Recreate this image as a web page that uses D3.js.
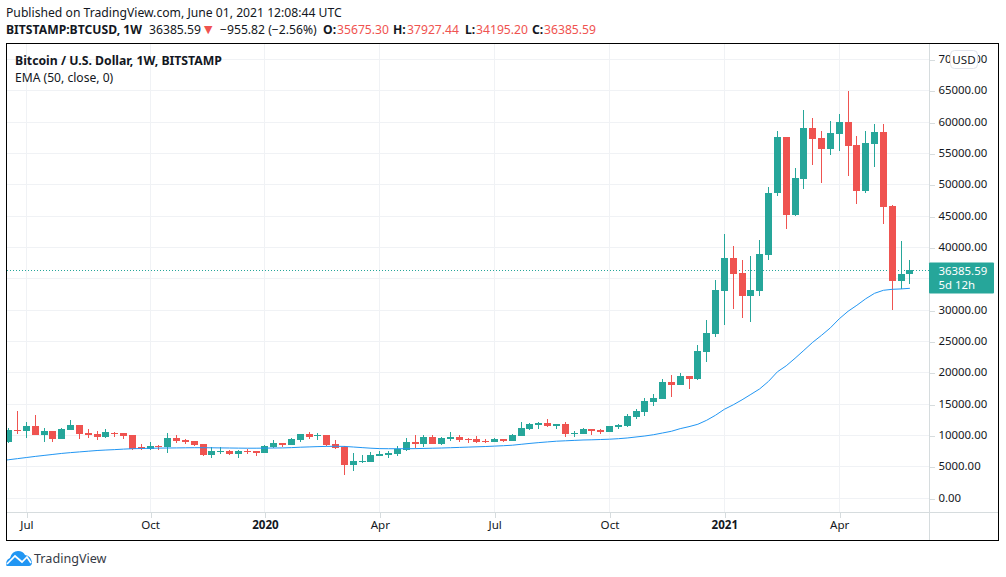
<!DOCTYPE html>
<html><head><meta charset="utf-8">
<script src="https://cdn.jsdelivr.net/npm/d3@7/dist/d3.min.js"></script>
<style>
html,body{margin:0;padding:0;background:#fff;}
svg{display:block;}
text{font-family:"Noto Sans",sans-serif;}
</style></head><body>
<svg id="chart" width="1006" height="577"></svg>
<script>
const opens=[8923,10787,10627,11427,9988,10627,9349,10787,11587,10308,10148,9669,10308,10308,9988,8071,7751,8230,8071,9509,9189,9029,8550,6792,7271,7431,6952,7431,7430,7110,8069,8708,8389,9187,10146,9827,9986,8548,8069,5192,5671,5671,6630,6790,6950,7590,8868,8548,9667,8548,9347,9667,9400,9347,9027,8868,9347,9027,9827,10946,11585,11905,11425,11745,10147,10147,10946,10786,10466,11265,11425,12864,13663,15261,15740,18457,17978,19416,18937,23249,26125,32997,38271,35874,32198,33057,38750,48659,57608,45142,50896,59046,57448,55690,58087,60005,56329,48978,56489,58407,46580,34595,35675.30];
const highs=[11214,13824,12066,13185,11107,10627,11107,12386,11587,10947,10627,10947,10467,10308,9988,8550,8870,8390,10308,9988,9349,9029,8550,8071,8071,7591,7591,7751,7430,8389,9187,8708,9507,10146,10466,10306,9986,9187,8229,7110,6790,7270,7430,7430,8229,9507,9986,9986,9986,9667,10466,9986,9507,9827,9347,9507,9347,10147,12065,11905,12065,12544,11745,12065,10626,11106,10946,10946,11425,11745,13343,14142,15900,16539,18937,19576,19895,19416,24370,28363,34755,42106,40189,37951,38590,41148,49600,58550,57608,52654,61923,60644,58567,60165,61283,64959,57768,58567,59685,59685,46740,40988,37927.44];
const lows=[8763,10148,9509,9988,8870,8870,9349,10787,9349,9509,9189,9509,9669,9349,7591,7591,7591,7591,7112,8710,8550,8230,6632,6313,6952,6792,6313,6952,6630,7110,7909,8069,8389,8868,9347,9187,8229,7749,3594,4233,5512,5671,6630,6311,6630,7430,7909,8069,8548,8389,9027,8868,8708,8708,8708,8868,8868,9027,9827,10786,10946,11265,10946,9667,9667,10147,9987,10147,10466,10946,11265,12544,13023,14621,15740,16060,17978,17338,18777,21651,25646,27564,30121,28682,28002,32198,37951,48180,42905,44982,49298,53133,50256,54731,55370,51375,46900,48658,52813,43704,29960,33316,34195.20];
const closes=[10787,10627,11427,9988,10627,9349,10947,11587,10148,9988,9669,10467,10148,9829,7751,7751,8230,8071,9509,9029,8870,8390,6792,7431,7431,6952,7431,7271,7110,8229,8708,8389,9347,10146,9667,9986,8389,7909,5192,5831,5831,6790,6950,7110,7749,8868,8548,9667,8548,9507,9667,9187,9240,8868,8868,9347,9027,9987,11106,11745,11905,11425,11745,10147,10307,10946,10626,10466,11425,11585,13023,13822,15420,15900,18457,17978,19416,18937,23411,26285,33157,38271,35714,32198,33157,38910,48659,57580,45142,51056,59046,57288,55690,58247,60005,56170,48978,56649,58407,46420,34595,35675.30,36385.59];
// EMA readings, one per candle, with one extra reading just left of the first candle
const emaValues=[5950,6140,6316,6492,6668,6828,6987,7147,7275,7387,7499,7611,7690,7754,7834,7898,7930,7962,7994,8010,8026,8042,8058,8058,8042,8026,8010,7994,7978,7978,7994,8010,8026,8074,8138,8186,8234,8266,8282,8266,8170,8074,7978,7914,7898,7898,7898,7914,7946,7978,8010,8058,8106,8154,8202,8250,8314,8378,8458,8601,8745,8873,8985,9097,9161,9225,9289,9320,9368,9416,9496,9608,9768,9928,10135,10407,10679,11100,11420,11800,12440,13240,14190,14900,15700,16570,17450,18650,20170,21130,22330,23600,24880,26000,27190,28630,29830,30790,31830,32700,33180,33340,33400,33500];
const gridTicks=[0,5000,10000,15000,20000,25000,30000,35000,40000,45000,50000,55000,60000,65000,70000];
const labelledTicks=[0,5000,10000,15000,20000,25000,30000,40000,45000,50000,55000,60000,65000,70000];
const timeTickIndex=[2,16,29,42,55,68,81,94];
const timeTickLabels=["Jul","Oct","2020","Apr","Jul","Oct","2021","Apr"];
const boldTickLabels=["2020","2021"];
const lastPrice=36385.59;
const lastLabel="36385.59", countdown="5d 12h", currency="USD";

const UP="#26a69a", DOWN="#ef5350", EMA="#2196f3", INK="#131722";
const svg=d3.select("#chart");
const L=7,R=929,T=44,B=512;
const x=d3.scaleLinear().domain([0,102]).range([8.73,909.9]);
const y=d3.scaleLinear().domain([0,70000]).range([498.2,59.6]);
const snap=v=>Math.floor(v)+0.5;
const py=v=>Math.round(y(v)-0.3);

svg.append("defs").append("clipPath").attr("id","plot").append("rect")
 .attr("x",L).attr("y",T).attr("width",R-L).attr("height",B-T);

// grid
const grid=svg.append("g").attr("stroke","#f0f2f5").attr("stroke-width",1).attr("shape-rendering","crispEdges");
grid.selectAll("line.h").data(gridTicks).join("line").attr("class","h")
 .attr("x1",L).attr("x2",R).attr("y1",d=>snap(y(d))).attr("y2",d=>snap(y(d)));
grid.selectAll("line.v").data(timeTickIndex).join("line").attr("class","v")
 .attr("y1",T).attr("y2",B).attr("x1",d=>snap(x(d))).attr("x2",d=>snap(x(d)));

// last price dotted
svg.append("line").attr("x1",L).attr("x2",R).attr("y1",snap(y(lastPrice))).attr("y2",snap(y(lastPrice)))
 .attr("stroke",UP).attr("stroke-width",1).attr("stroke-dasharray","1 2").attr("shape-rendering","crispEdges");

// candles
const plot=svg.append("g").attr("clip-path","url(#plot)");
const idx=d3.range(opens.length);
const col=i=>closes[i]>=opens[i]?UP:DOWN;
plot.append("g").attr("shape-rendering","crispEdges").selectAll("line").data(idx).join("line")
 .attr("x1",i=>snap(x(i))).attr("x2",i=>snap(x(i)))
 .attr("y1",i=>py(highs[i])).attr("y2",i=>py(lows[i]))
 .attr("stroke",col).attr("stroke-width",1);
plot.append("g").attr("shape-rendering","crispEdges").selectAll("rect").data(idx).join("rect")
 .attr("x",i=>snap(x(i))-3.5).attr("width",7)
 .attr("y",i=>py(Math.max(opens[i],closes[i])))
 .attr("height",i=>Math.max(1,py(Math.min(opens[i],closes[i]))-py(Math.max(opens[i],closes[i]))))
 .attr("fill",col);

// EMA
plot.append("path").attr("fill","none").attr("stroke",EMA).attr("stroke-width",1)
 .attr("d",d3.line().x((d,i)=>x(i-1)).y(d=>y(d))(emaValues));

// axes
const axisR=d3.axisRight(y).tickValues(labelledTicks).tickSize(5).tickPadding(4).tickFormat(d3.format(".2f"));
const gy=svg.append("g").attr("transform",`translate(${R+0.5},0)`).call(axisR);
gy.select(".domain").remove();
gy.selectAll("line").attr("stroke","#d6dcde").attr("shape-rendering","crispEdges")
 .attr("transform",d=>`translate(0,${snap(y(d))-y(d)})`);
gy.selectAll("text").attr("font-size",11.4).attr("fill",INK).attr("transform","translate(0,-0.8)");

const axisB=d3.axisBottom(x).tickValues(timeTickIndex).tickSize(5).tickPadding(3)
 .tickFormat((d,i)=>timeTickLabels[i]);
const gx=svg.append("g").attr("transform",`translate(0,${B+0.5})`).call(axisB);
gx.select(".domain").remove();
gx.selectAll("line").attr("stroke","#d6dcde").attr("shape-rendering","crispEdges")
 .attr("transform",d=>`translate(${snap(x(d))-x(d)},0)`);
gx.selectAll("text").attr("font-size",11.6).attr("fill",INK)
 .attr("font-weight",(d,i)=>boldTickLabels.includes(timeTickLabels[i])?700:400);

// axis borders
svg.append("line").attr("x1",R+.5).attr("x2",R+.5).attr("y1",T).attr("y2",540).attr("stroke","#d6dcde").attr("shape-rendering","crispEdges");
svg.append("line").attr("x1",L).attr("x2",998).attr("y1",B+.5).attr("y2",B+.5).attr("stroke","#d6dcde").attr("shape-rendering","crispEdges");

// frame
svg.append("rect").attr("x",6.5).attr("y",43.5).attr("width",992).attr("height",497)
 .attr("fill","none").attr("stroke","#000").attr("stroke-width",1).attr("shape-rendering","crispEdges");

// current price label
const ly=snap(y(lastPrice));
svg.append("rect").attr("x",929).attr("y",ly-8).attr("width",65).attr("height",31).attr("rx",1).attr("fill",UP);
const lab=svg.append("text").attr("font-size",11.4).attr("fill","#fff");
lab.append("tspan").attr("x",938.5).attr("y",ly+4).text(lastLabel);
lab.append("tspan").attr("x",938.5).attr("y",ly+18).text(countdown);

// USD button
svg.append("rect").attr("x",950.5).attr("y",50.5).attr("width",27).attr("height",18).attr("rx",4)
 .attr("fill","#fff").attr("stroke","#e0e3eb");
svg.append("text").attr("x",964).attr("y",63.5).attr("text-anchor","middle").attr("font-size",11.6)
 .attr("fill",INK).text(currency);

// legend inside pane
svg.append("text").attr("x",15).attr("y",65).attr("font-size",12.25).attr("font-weight",700).attr("fill",INK)
 .text("Bitcoin / U.S. Dollar, 1W, BITSTAMP");
svg.append("text").attr("x",15).attr("y",82).attr("font-size",12.1).attr("fill",INK).text("EMA (50, close, 0)");

// header
svg.append("text").attr("x",6).attr("y",17).attr("font-size",12.18).attr("fill",INK)
 .text("Published on TradingView.com, June 01, 2021 12:08:44 UTC");
const hdr=svg.append("g").attr("font-size",12.18).attr("fill",INK);
const put=(xp,txt,bold,fill)=>hdr.append("text").attr("x",xp).attr("y",33.5).attr("font-weight",bold?700:400).attr("fill",fill||INK).text(txt);
put(6,"BITSTAMP:BTCUSD, 1W",true);
put(149,"36385.59",false);
hdr.append("text").attr("x",204).attr("y",33).attr("font-size",11).attr("fill",DOWN).style("font-family",'"DejaVu Sans"').text("▼");
put(220,"−955.82 (−2.56%)",false);
put(323,"O:",true); put(337,"35675.30",false,DOWN);
put(393,"H:",true); put(407,"37927.44",false,DOWN);
put(465,"L:",true); put(476,"34195.20",false,DOWN);
put(532,"C:",true); put(544,"36385.59",false,DOWN);

// logo
const logo=svg.append("g");
logo.append("path").attr("fill","#2196f3")
 .attr("d","M6.5 566 Q5 560 10 558 Q12 551 18 551 Q23 551 25 555 Q31 556 32 562 Q32 566 29 566 Z");
logo.append("path").attr("fill","none").attr("stroke","#fff").attr("stroke-width",1.7)
 .attr("d","M7 564 L15 556 L22 562 L27 557 L31 563");
svg.append("text").attr("x",34).attr("y",563).attr("font-size",12.6).attr("fill","#363a45").text("TradingView");
</script>
</body></html>
